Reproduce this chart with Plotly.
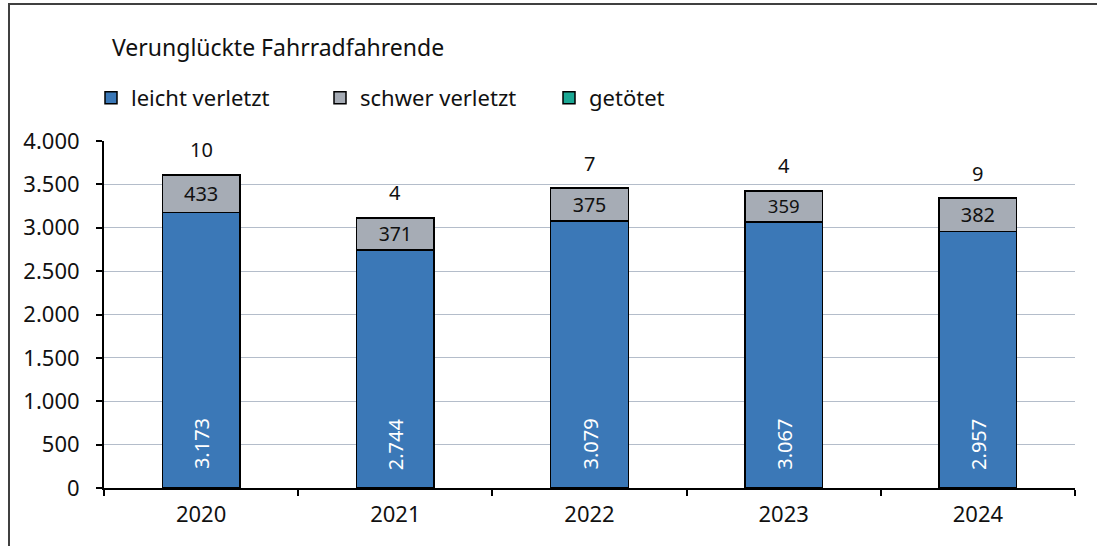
import plotly.graph_objects as go

years = ["2020", "2021", "2022", "2023", "2024"]
leicht = [3173, 2744, 3079, 3067, 2957]
schwer = [433, 371, 375, 359, 382]
getoetet = [10, 4, 7, 4, 9]
y_ticks = [0, 500, 1000, 1500, 2000, 2500, 3000, 3500, 4000]

FONT = "Noto Sans"
W, H = 1097, 546
L, R, T, B = 104, 22, 141, 58
PW, PH = W - L - R, H - T - B

def px_x(px):
    return (px - L) / PW

def px_y(py):
    return (H - B - py) / PH

fig = go.Figure()
fig.add_bar(x=years, y=leicht, name="leicht verletzt",
            marker=dict(color="#3B78B7", line=dict(color="#000000", width=1.5)))
fig.add_bar(x=years, y=schwer, name="schwer verletzt",
            marker=dict(color="#A6ACB5", line=dict(color="#000000", width=1.5)),
            texttemplate="%{y}", textposition="inside", insidetextanchor="middle",
            textangle=0, textfont=dict(color="#111111", size=20, family=FONT))
fig.add_bar(x=years, y=getoetet, name="getötet",
            marker=dict(color="#1BA894", line=dict(color="#000000", width=1.5)),
            textposition="none")

# leicht verletzt labels (rotated, near base)
for i, v in enumerate(leicht):
    fig.add_annotation(x=i, y=0, text=f"{v:,}".replace(",", "."), showarrow=False,
                       textangle=-90, yanchor="middle", yshift=44,
                       font=dict(size=20, color="white", family=FONT))

# getötet labels above the stacks
totals = [a + b + c for a, b, c in zip(leicht, schwer, getoetet)]
for i, (tot, g) in enumerate(zip(totals, getoetet)):
    fig.add_annotation(x=i, y=tot, text=str(g), showarrow=False,
                       yanchor="bottom", yshift=9,
                       font=dict(size=20, color="#111111", family=FONT))

# frame lines
fig.add_shape(type="line", xref="paper", yref="paper",
              x0=px_x(8), x1=px_x(1097), y0=px_y(4), y1=px_y(4),
              line=dict(color="#404040", width=2))
fig.add_shape(type="line", xref="paper", yref="paper",
              x0=px_x(9), x1=px_x(9), y0=px_y(4), y1=px_y(546),
              line=dict(color="#404040", width=2))

fig.update_layout(
    width=W, height=H,
    margin=dict(l=L, r=R, t=T, b=B),
    barmode="stack", bargap=0.6,
    separators=",.",
    paper_bgcolor="white", plot_bgcolor="white",
    font=dict(family=FONT, size=22, color="#111111"),
    title=dict(text="Verunglückte Fahrradfahrende", x=112 / W, xanchor="left",
               xref="container", y=1 - 48 / H, yanchor="middle",
               yref="container", font=dict(size=23, family=FONT, color="#111111")),
    legend=dict(orientation="h", x=px_x(91), xanchor="left", y=px_y(98), yanchor="middle",
                traceorder="normal", font=dict(size=22, family=FONT),
                entrywidth=184, entrywidthmode="pixels",
                bgcolor="rgba(0,0,0,0)"),
    xaxis=dict(type="category", showline=True, linecolor="#000000", linewidth=2,
               ticks="outside", tickson="boundaries", ticklen=6, tickwidth=2,
               tickcolor="#000000", showgrid=False, range=[-0.5, 4.5],
               ticklabelstandoff=6,
               tickfont=dict(size=22, family=FONT)),
    yaxis=dict(range=[0, 4000], tickvals=y_ticks, tickformat=",d",
               showline=True, linecolor="#000000", linewidth=2,
               ticks="outside", ticklen=6, tickwidth=2, tickcolor="#000000",
               showgrid=True, gridcolor="#B4BDCA", gridwidth=1,
               zeroline=False, ticklabelstandoff=12,
               tickfont=dict(size=22, family=FONT)),
)

fig.write_html("out.html", config={"displayModeBar": False},
               post_script="document.body.style.margin='0px';")
